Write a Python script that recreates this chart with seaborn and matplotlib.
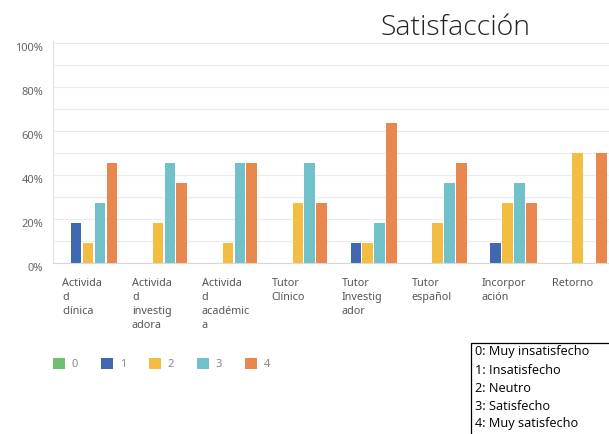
import seaborn as sns
import matplotlib.pyplot as plt
import matplotlib.transforms as mtransforms
from matplotlib.patches import Patch, Rectangle
import pandas as pd

# datos (porcentaje de respuestas por nivel)
categorias = ["Actividad clínica", "Actividad investigadora", "Actividad académica",
              "Tutor Clínico", "Tutor Investigador", "Tutor español",
              "Incorporación", "Retorno"]
etiquetas = ["Activida\nd\nclínica", "Activida\nd\ninvestig\nadora", "Activida\nd\nacadémic\na",
             "Tutor\nClínico", "Tutor\nInvestig\nador", "Tutor\nespañol",
             "Incorpor\nación", "Retorno"]
nivel_0 = [0, 0, 0, 0, 0, 0, 0, 0]
nivel_1 = [18.2, 0, 0, 0, 9.1, 0, 9.1, 0]
nivel_2 = [9.1, 18.2, 9.1, 27.3, 9.1, 18.2, 27.3, 50]
nivel_3 = [27.3, 45.5, 45.5, 45.5, 18.2, 36.4, 36.4, 0]
nivel_4 = [45.5, 36.4, 45.5, 27.3, 63.6, 45.5, 27.3, 50]
niveles = ["0", "1", "2", "3", "4"]
leyenda_txt = ["0: Muy insatisfecho", "1: Insatisfecho", "2: Neutro",
               "3: Satisfecho", "4: Muy satisfecho"]
colores = ["#6cc070", "#3f68b0", "#f3bd42", "#70c1c9", "#e8874e"]

rows = []
for niv, vals in zip(niveles, [nivel_0, nivel_1, nivel_2, nivel_3, nivel_4]):
    for c, v in zip(categorias, vals):
        rows.append({"categoria": c, "nivel": niv, "pct": v})
df = pd.DataFrame(rows)

sns.set_style("white")
plt.rcParams['font.family'] = ['Noto Sans', 'DejaVu Sans']

fig = plt.figure(figsize=(6.09, 4.34), dpi=100)
ax = fig.add_axes([53/609, 171/434, 1 - 53/609, 220/434])

sns.barplot(data=df, x="categoria", y="pct", hue="nivel", hue_order=niveles,
            order=categorias, palette=colores, saturation=1, width=0.85, gap=0.12,
            linewidth=0, legend=False, ax=ax)

ax.set_xlim(-0.5, 7.45)
ax.set_ylim(0, 100)
ax.set_xlabel("")
ax.set_ylabel("")

# grid cada 10%, etiquetas cada 20%
ax.set_yticks(range(0, 101, 10))
ax.set_yticklabels([f"{v}%" if v % 20 == 0 else "" for v in range(0, 101, 10)],
                   fontsize=8, color="#666666", va="top")
ax.yaxis.grid(True, color="#ebebeb", linewidth=0.8)
ax.set_axisbelow(True)
ax.tick_params(axis="y", length=0, pad=7)

ax.set_xticks(range(len(categorias)))
ax.set_xticklabels(etiquetas, fontsize=7.8, color="#555555", ha="left", linespacing=1.35)
ax.tick_params(axis="x", length=0, pad=11)
off = mtransforms.ScaledTranslation(-26/100, 0, fig.dpi_scale_trans)
for lab in ax.get_xticklabels():
    lab.set_transform(lab.get_transform() + off)

for s in ["top", "right"]:
    ax.spines[s].set_visible(False)
ax.spines["left"].set_color("#e0e0e0")
ax.spines["bottom"].set_color("#d8d8d8")
ax.spines["left"].set_bounds(0, 101)

fig.text(0.748, 0.936, "Satisfacción", fontsize=20.5, color="#222222",
         family="Open Sans", weight="light", ha="center", va="center")

handles = [Patch(facecolor=c, edgecolor="none") for c in colores]
fig.legend(handles, niveles, loc="center left", bbox_to_anchor=(43/609, 1 - 364/434),
           ncol=5, frameon=False, handlelength=1.1, handleheight=1.1,
           handletextpad=0.6, columnspacing=2.05, labelcolor="#888888", fontsize=8)

fig.patches.append(Rectangle((471/609, -0.01), 0.3, (434 - 343)/434 + 0.01,
                             transform=fig.transFigure, facecolor="white",
                             edgecolor="black", linewidth=0.9))
for i, t in enumerate(leyenda_txt):
    fig.text(475/609, 1 - (352 + i*18)/434, t, fontsize=9.2, color="black",
             family="Open Sans", ha="left", va="center")

plt.savefig("out.png", dpi=100)
